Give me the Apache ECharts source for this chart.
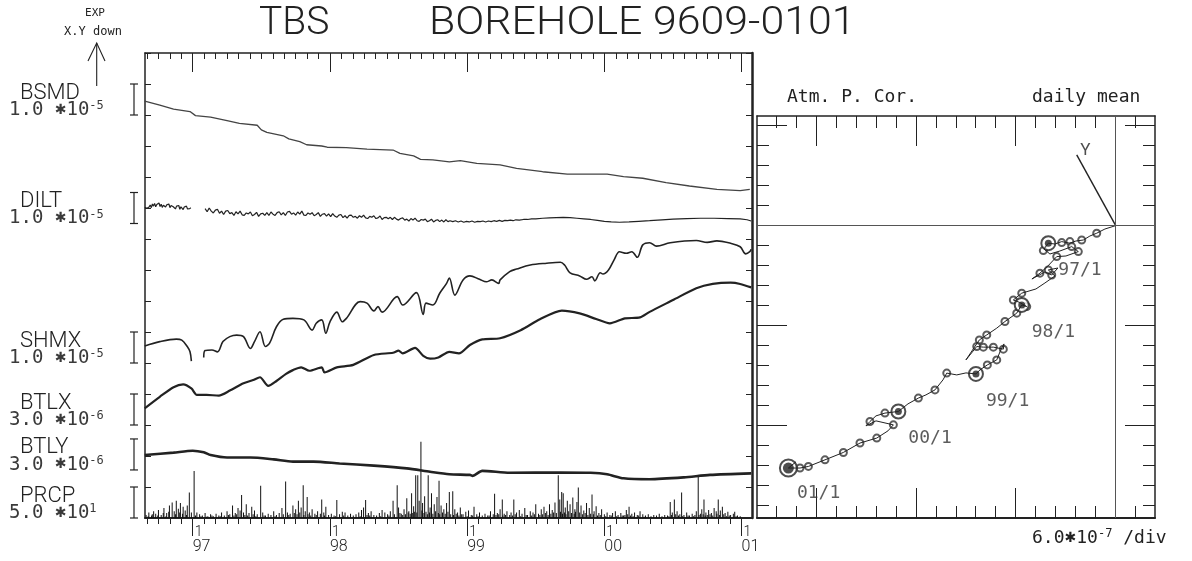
<!DOCTYPE html>
<html>
<head>
<meta charset="utf-8">
<script src="https://cdn.jsdelivr.net/npm/echarts@6/dist/echarts.min.js"></script>
<style>
  html, body { margin: 0; padding: 0; background: #fff; }
  #chart { width: 1192px; height: 561px; }
</style>
</head>
<body>
<div id="chart"></div>
<script>
// ---------- time-series panel (x: decimal year, y: stacked plot divisions) ----------
const yearTicks = [1997, 1998, 1999, 2000, 2001];
const yearLabels = ['97', '98', '99', '00', '01'];

const traceNames = ['BSMD', 'DILT', 'SHMX', 'BTLX', 'BTLY', 'PRCP'];
const traceScales = [['1.0', '-5'], ['1.0', '-5'], ['1.0', '-5'], ['3.0', '-6'], ['3.0', '-6'], ['5.0', '1']];
const scaleBars = [[13, 14], [9.5, 10.5], [5, 6], [3, 4], [1.55, 2.55], [0, 1]];
const PRCP_MM_PER_DIV = 50;

const bsmd = [
  [1996.65,13.45],[1996.76,13.32],[1996.86,13.19],[1996.98,13.11],[1997.02,12.98],[1997.13,12.93],
  [1997.25,12.82],[1997.34,12.73],[1997.47,12.67],[1997.50,12.52],[1997.54,12.44],[1997.66,12.33],
  [1997.70,12.23],[1997.78,12.14],[1997.83,12.04],[1997.94,12.00],[1997.98,11.96],[1998.12,11.95],
  [1998.27,11.90],[1998.46,11.87],[1998.51,11.76],[1998.61,11.68],[1998.66,11.57],[1998.75,11.55],
  [1998.87,11.49],[1998.95,11.53],[1999.07,11.44],[1999.24,11.39],[1999.36,11.28],[1999.55,11.17],
  [1999.73,11.09],[1999.89,11.09],[2000.02,11.09],[2000.14,11.01],[2000.28,10.96],[2000.45,10.82],
  [2000.62,10.71],[2000.82,10.60],[2000.99,10.56],[2001.06,10.60]
];

const dilt = [
  [1996.650,10.02],[1996.658,10.07],[1996.666,9.99],[1996.674,10.05],[1996.682,10.03],[1996.690,10.10],
  [1996.698,10.01],[1996.706,10.13],[1996.714,10.06],[1996.722,10.15],[1996.730,10.04],[1996.738,10.11],
  [1996.746,10.08],[1996.754,10.16],[1996.762,10.05],[1996.770,10.12],[1996.778,10.02],[1996.786,10.09],
  [1996.794,10.14],[1996.802,10.03],[1996.810,10.10],[1996.818,10.07],[1996.826,10.13],[1996.834,10.01],
  [1996.842,10.08],[1996.850,10.11],[1996.858,10.04],[1996.866,10.09],[1996.874,9.97],[1996.882,10.06],
  [1996.890,10.02],[1996.898,10.08],[1996.906,9.96],[1996.914,10.04],[1996.922,10.07],[1996.930,9.95],
  [1996.938,10.03],[1996.946,9.99],[1996.954,10.06],[1996.962,9.97],[1996.970,10.02],[1996.978,9.98],
  [1996.986,10.01],[1997.04,null],
  [1997.090,9.98],[1997.105,9.88],[1997.120,10.00],[1997.135,9.90],[1997.150,9.84],[1997.165,9.93],
  [1997.180,9.96],[1997.195,9.83],[1997.210,9.90],[1997.225,9.79],[1997.240,9.90],[1997.255,9.92],
  [1997.270,9.82],[1997.285,9.85],[1997.300,9.76],[1997.315,9.88],[1997.330,9.81],[1997.345,9.90],
  [1997.360,9.78],[1997.375,9.76],[1997.390,9.84],[1997.405,9.81],[1997.420,9.87],[1997.435,9.75],
  [1997.450,9.79],[1997.465,9.86],[1997.480,9.73],[1997.495,9.81],[1997.510,9.83],[1997.525,9.76],
  [1997.540,9.85],[1997.555,9.76],[1997.570,9.87],[1997.585,9.80],[1997.600,9.76],[1997.615,9.85],
  [1997.630,9.88],[1997.645,9.78],[1997.660,9.85],[1997.675,9.76],[1997.690,9.87],[1997.705,9.89],
  [1997.720,9.80],[1997.735,9.84],[1997.750,9.77],[1997.765,9.87],[1997.780,9.80],[1997.795,9.90],
  [1997.810,9.77],[1997.825,9.76],[1997.840,9.84],[1997.855,9.80],[1997.870,9.85],[1997.885,9.75],
  [1997.900,9.79],[1997.915,9.85],[1997.930,9.73],[1997.945,9.80],[1997.960,9.82],[1997.975,9.74],
  [1997.990,9.81],[1998.005,9.72],[1998.020,9.82],[1998.035,9.74],[1998.050,9.70],[1998.065,9.77],
  [1998.080,9.79],[1998.095,9.69],[1998.110,9.75],[1998.125,9.67],[1998.140,9.76],[1998.155,9.77],
  [1998.170,9.70],[1998.185,9.73],[1998.200,9.67],[1998.215,9.75],[1998.230,9.70],[1998.245,9.77],
  [1998.260,9.68],[1998.275,9.66],[1998.290,9.73],[1998.305,9.70],[1998.320,9.75],[1998.335,9.66],
  [1998.350,9.68],[1998.365,9.74],[1998.380,9.63],[1998.395,9.69],[1998.410,9.70],[1998.425,9.65],
  [1998.440,9.70],[1998.455,9.63],[1998.470,9.70],[1998.485,9.64],[1998.500,9.61],[1998.515,9.66],
  [1998.530,9.68],[1998.545,9.61],[1998.560,9.64],[1998.575,9.58],[1998.590,9.66],[1998.605,9.61],
  [1998.620,9.67],[1998.635,9.59],[1998.650,9.57],[1998.665,9.63],[1998.680,9.61],[1998.695,9.64],
  [1998.710,9.56],[1998.725,9.59],[1998.740,9.64],[1998.755,9.55],[1998.770,9.60],[1998.785,9.62],
  [1998.800,9.56],[1998.815,9.61],[1998.830,9.55],[1998.845,9.62],[1998.860,9.56],[1998.875,9.59],
  [1998.895,9.56],[1998.915,9.59],[1998.935,9.55],[1998.955,9.58],[1998.975,9.54],[1998.995,9.57],
  [1999.015,9.55],[1999.035,9.58],[1999.055,9.54],[1999.075,9.57],[1999.095,9.56],[1999.115,9.58],
  [1999.135,9.55],[1999.155,9.58],[1999.175,9.56],[1999.195,9.59],[1999.215,9.57],[1999.235,9.60],
  [1999.255,9.57],[1999.275,9.60],[1999.295,9.59],[1999.315,9.61],[1999.335,9.59],[1999.355,9.62],
  [1999.38,9.61],[1999.41,9.63],[1999.44,9.63],[1999.47,9.65],
  [1999.50,9.65],[1999.55,9.67],[1999.60,9.68],[1999.65,9.69],[1999.70,9.70],[1999.75,9.69],
  [1999.80,9.67],[1999.85,9.65],[1999.90,9.63],[1999.95,9.60],[2000.00,9.57],[2000.05,9.55],
  [2000.11,9.54],[2000.18,9.55],[2000.25,9.57],[2000.33,9.59],[2000.42,9.62],[2000.50,9.64],
  [2000.60,9.66],[2000.70,9.67],[2000.80,9.67],[2000.90,9.66],[2000.99,9.65],[2001.04,9.62],[2001.07,9.58]
];

const shmx = [
  [1996.65,5.55],[1996.76,5.69],[1996.88,5.77],[1996.92,5.74],[1996.96,5.53],[1996.98,5.36],[1996.99,5.06],
  [1997.04,null],
  [1997.08,5.18],[1997.09,5.40],[1997.14,5.42],[1997.18,5.36],[1997.22,5.69],[1997.27,5.85],[1997.32,5.90],
  [1997.37,5.85],[1997.42,5.47],[1997.45,5.69],[1997.49,6.01],[1997.53,5.53],[1997.56,5.64],[1997.61,6.17],
  [1997.66,6.41],[1997.73,6.44],[1997.81,6.39],[1997.87,6.06],[1997.90,6.28],[1997.94,6.39],[1997.97,5.96],
  [1998.00,6.33],[1998.05,6.64],[1998.09,6.33],[1998.12,6.44],[1998.22,6.98],[1998.27,6.93],[1998.32,6.68],
  [1998.35,6.82],[1998.38,6.64],[1998.49,7.14],[1998.53,6.87],[1998.63,7.27],[1998.68,6.57],[1998.70,6.93],
  [1998.75,6.87],[1998.80,7.25],[1998.85,7.57],[1998.87,7.74],[1998.91,7.19],[1998.97,7.68],[1999.02,7.81],
  [1999.09,7.70],[1999.14,7.62],[1999.18,7.68],[1999.23,7.57],[1999.24,7.68],[1999.31,7.95],[1999.36,8.03],
  [1999.46,8.16],[1999.58,8.22],[1999.68,8.25],[1999.71,8.16],[1999.75,7.91],[1999.82,7.81],[1999.87,7.70],
  [1999.91,7.78],[1999.93,7.65],[1999.97,7.91],[1999.99,7.87],[2000.03,8.00],[2000.07,8.32],[2000.11,8.59],
  [2000.16,8.54],[2000.20,8.59],[2000.24,8.41],[2000.28,8.81],[2000.33,8.88],[2000.38,8.77],[2000.48,8.88],
  [2000.67,8.95],[2000.75,8.89],[2000.82,8.94],[2000.92,8.86],[2000.99,8.75],[2001.03,8.52],[2001.06,8.59],
  [2001.07,8.67]
];

const btlx = [
  [1996.65,3.54],[1996.76,3.91],[1996.86,4.22],[1996.93,4.31],[1996.99,4.18],[1997.03,3.97],[1997.10,3.97],
  [1997.19,3.95],[1997.27,4.11],[1997.37,4.35],[1997.44,4.45],[1997.49,4.54],[1997.55,4.26],[1997.61,4.42],
  [1997.68,4.65],[1997.73,4.77],[1997.79,4.86],[1997.85,4.75],[1997.94,4.86],[1997.96,4.70],[1998.05,4.86],
  [1998.17,4.94],[1998.32,5.26],[1998.46,5.33],[1998.50,5.40],[1998.53,5.31],[1998.62,5.49],[1998.68,5.23],
  [1998.73,5.14],[1998.79,5.18],[1998.87,5.36],[1998.94,5.31],[1999.02,5.58],[1999.11,5.76],[1999.24,5.80],
  [1999.39,6.06],[1999.53,6.41],[1999.69,6.69],[1999.82,6.60],[1999.94,6.42],[2000.04,6.28],[2000.15,6.44],
  [2000.26,6.47],[2000.33,6.65],[2000.50,7.03],[2000.67,7.41],[2000.79,7.55],[2000.92,7.59],[2000.99,7.55],
  [2001.07,7.44]
];

const btly = [
  [1996.65,2.03],[1996.86,2.11],[1997.00,2.17],[1997.08,2.12],[1997.13,2.03],[1997.25,1.95],[1997.42,1.95],
  [1997.59,1.89],[1997.73,1.82],[1997.88,1.82],[1998.07,1.76],[1998.32,1.69],[1998.56,1.60],[1998.73,1.49],
  [1998.87,1.41],[1999.02,1.39],[1999.04,1.36],[1999.11,1.52],[1999.31,1.46],[1999.68,1.47],[1999.90,1.46],
  [2000.02,1.41],[2000.14,1.28],[2000.33,1.25],[2000.58,1.31],[2000.77,1.39],[2001.07,1.44]
];

// daily precipitation, mm
const prcp = [
  [1996.66,5],[1996.68,9],[1996.70,4],[1996.715,11],[1996.73,7],[1996.75,13],[1996.77,5],[1996.79,16],
  [1996.81,8],[1996.83,20],[1996.85,25],[1996.865,11],[1996.88,28],[1996.895,15],[1996.91,24],[1996.93,18],
  [1996.945,12],[1996.96,20],[1996.975,41],[1996.99,9],[1997.01,76],[1997.03,9],[1997.05,6],[1997.07,4],
  [1997.09,8],[1997.11,3],[1997.13,6],[1997.15,3],[1997.17,7],[1997.19,4],[1997.21,9],[1997.23,4],
  [1997.25,11],[1997.27,6],[1997.29,20],[1997.31,8],[1997.33,16],[1997.345,12],[1997.356,37],[1997.37,9],
  [1997.39,22],[1997.41,8],[1997.43,18],[1997.45,12],[1997.47,6],[1997.495,52],[1997.51,9],[1997.53,4],
  [1997.55,7],[1997.57,5],[1997.59,11],[1997.61,5],[1997.63,8],[1997.65,16],[1997.677,59],[1997.69,9],
  [1997.71,7],[1997.73,20],[1997.75,14],[1997.77,28],[1997.79,17],[1997.805,53],[1997.82,11],[1997.834,34],
  [1997.85,9],[1997.87,14],[1997.89,7],[1997.91,11],[1997.94,30],[1997.955,9],[1997.97,18],[1997.99,5],
  [1998.01,7],[1998.03,4],[1998.05,29],[1998.07,6],[1998.09,10],[1998.11,9],[1998.13,4],[1998.15,7],
  [1998.17,4],[1998.19,6],[1998.21,9],[1998.23,13],[1998.245,17],[1998.26,29],[1998.28,8],[1998.30,11],
  [1998.32,5],[1998.34,4],[1998.36,8],[1998.38,13],[1998.40,9],[1998.42,6],[1998.44,11],[1998.46,28],
  [1998.49,53],[1998.50,17],[1998.52,7],[1998.54,14],[1998.56,32],[1998.575,11],[1998.595,40],[1998.61,19],
  [1998.625,69],[1998.64,69],[1998.65,28],[1998.663,123],[1998.675,24],[1998.69,35],[1998.716,69],[1998.73,17],
  [1998.74,40],[1998.76,22],[1998.78,34],[1998.795,60],[1998.81,20],[1998.83,14],[1998.85,24],[1998.87,42],
  [1998.895,43],[1998.91,14],[1998.93,9],[1998.95,17],[1998.97,6],[1998.99,10],[1999.01,12],[1999.03,5],
  [1999.05,18],[1999.07,6],[1999.09,9],[1999.11,4],[1999.13,7],[1999.15,4],[1999.17,11],[1999.19,6],
  [1999.20,39],[1999.22,8],[1999.24,14],[1999.256,30],[1999.27,7],[1999.29,11],[1999.31,5],[1999.32,9],
  [1999.34,30],[1999.36,9],[1999.38,13],[1999.40,7],[1999.42,16],[1999.44,5],[1999.46,11],[1999.48,9],
  [1999.50,22],[1999.52,7],[1999.54,14],[1999.56,18],[1999.58,11],[1999.60,22],[1999.62,13],[1999.64,25],
  [1999.664,69],[1999.675,30],[1999.689,42],[1999.70,40],[1999.715,17],[1999.73,28],[1999.75,22],[1999.77,33],
  [1999.785,14],[1999.80,26],[1999.81,49],[1999.83,20],[1999.85,12],[1999.87,24],[1999.89,16],[1999.91,38],
  [1999.925,11],[1999.94,19],[1999.96,8],[1999.98,14],[2000.00,6],[2000.02,9],[2000.04,5],[2000.06,8],
  [2000.08,11],[2000.10,5],[2000.12,8],[2000.14,4],[2000.16,13],[2000.18,18],[2000.20,7],[2000.22,9],
  [2000.24,5],[2000.26,11],[2000.28,6],[2000.30,4],[2000.32,6],[2000.34,3],[2000.36,5],[2000.38,4],
  [2000.40,7],[2000.42,3],[2000.44,5],[2000.46,4],[2000.48,26],[2000.495,9],[2000.51,30],[2000.53,11],
  [2000.55,6],[2000.563,41],[2000.58,5],[2000.60,9],[2000.62,4],[2000.64,7],[2000.66,5],[2000.67,11],
  [2000.684,66],[2000.70,7],[2000.71,14],[2000.726,30],[2000.74,9],[2000.76,13],[2000.78,8],[2000.80,16],
  [2000.815,11],[2000.83,30],[2000.845,12],[2000.86,18],[2000.88,8],[2000.90,10],[2000.92,5],[2000.94,7],
  [2000.95,10],[2000.97,4],[2000.99,3],
  [1996.675,3],[1996.705,6],[1996.745,4],[1996.785,8],[1996.805,3],[1996.825,10],[1996.875,6],[1996.905,9],
  [1996.925,7],[1996.955,5],[1997.02,4],[1997.06,3],[1997.10,2],[1997.14,4],[1997.20,3],[1997.26,5],
  [1997.30,4],[1997.32,6],[1997.38,5],[1997.40,4],[1997.44,6],[1997.46,3],[1997.52,4],[1997.60,3],
  [1997.66,6],[1997.70,5],[1997.74,8],[1997.76,6],[1997.78,9],[1997.81,5],[1997.84,6],[1997.86,4],
  [1997.90,5],[1997.93,7],[1997.96,4],[1998.04,3],[1998.10,4],[1998.22,3],[1998.27,5],[1998.29,4],
  [1998.37,3],[1998.43,4],[1998.47,6],[1998.51,8],[1998.53,5],[1998.55,6],[1998.57,9],[1998.585,7],
  [1998.60,8],[1998.615,10],[1998.633,9],[1998.67,12],[1998.685,8],[1998.70,10],[1998.71,6],[1998.725,9],
  [1998.75,7],[1998.77,11],[1998.79,8],[1998.80,6],[1998.82,9],[1998.84,7],[1998.86,10],[1998.88,6],
  [1998.90,5],[1998.92,7],[1998.94,4],[1998.96,6],[1999.00,3],[1999.04,4],[1999.08,3],[1999.16,4],
  [1999.21,5],[1999.23,6],[1999.26,4],[1999.28,5],[1999.33,4],[1999.35,6],[1999.39,3],[1999.43,5],
  [1999.47,4],[1999.49,6],[1999.53,5],[1999.55,6],[1999.57,8],[1999.59,5],[1999.61,7],[1999.63,9],
  [1999.65,8],[1999.68,10],[1999.695,7],[1999.71,9],[1999.72,6],[1999.74,11],[1999.76,8],[1999.78,7],
  [1999.79,10],[1999.82,9],[1999.84,6],[1999.86,8],[1999.88,5],[1999.90,7],[1999.92,6],[1999.95,4],
  [1999.97,5],[2000.01,3],[2000.05,4],[2000.09,3],[2000.13,4],[2000.15,5],[2000.17,6],[2000.19,4],
  [2000.21,3],[2000.25,4],[2000.29,2],[2000.47,3],[2000.49,5],[2000.52,6],[2000.54,4],[2000.57,3],
  [2000.61,4],[2000.65,3],[2000.69,5],[2000.72,6],[2000.735,4],[2000.75,5],[2000.77,6],[2000.79,4],
  [2000.82,7],[2000.84,5],[2000.87,6],[2000.89,3],[2000.91,4],[2000.96,3]
];

// ---------- strain vector panel (units: divisions of 6.0e-7) ----------
const vecPath = [
  [0,0],[-0.54,-0.17],[-0.95,-0.38],[-1.29,-0.52],[-1.62,-0.72],[-1.99,-0.77],[-2.29,-0.88],[-2.70,-0.80],
  [-3.04,-0.92],[-3.37,-0.88],[-3.59,-1.17],[-3.29,-1.42],[-2.79,-1.27],[-2.20,-1.05],[-1.87,-1.30],
  [-2.49,-1.52],[-2.95,-1.55],[-3.39,-2.02],[-3.79,-2.38],[-4.19,-2.67],[-3.54,-2.32],[-3.20,-2.47],
  [-2.89,-2.12],[-3.37,-2.22],[-3.04,-2.52],[-3.54,-2.87],[-3.99,-3.17],[-4.70,-3.38],[-5.12,-3.72],
  [-4.79,-3.85],[-4.45,-4.05],[-4.70,-3.97],[-4.95,-4.38],[-5.54,-4.80],[-5.95,-5.13],[-6.45,-5.47],
  [-6.82,-5.72],[-7.09,-6.12],[-7.49,-6.72],[-6.95,-6.05],[-6.62,-6.08],[-6.12,-6.08],[-5.62,-6.18],
  [-5.59,-5.92],[-5.79,-6.32],[-5.95,-6.72],[-6.42,-6.97],[-6.79,-7.22],[-6.99,-7.42],[-7.49,-7.37],
  [-7.95,-7.47],[-8.45,-7.38],[-8.64,-7.72],[-9.04,-8.22],[-9.49,-8.47],[-9.87,-8.63],[-10.39,-8.92],
  [-10.87,-9.30],[-11.54,-9.38],[-11.99,-9.52],[-12.29,-9.80],[-12.49,-10.02],[-11.99,-9.77],[-11.12,-9.97],
  [-11.39,-10.27],[-11.95,-10.63],[-12.79,-10.88],[-13.62,-11.35],[-14.54,-11.72],[-15.37,-12.05],
  [-15.79,-12.13],[-16.37,-12.13],[-15.99,-11.82]
];
const vecMonthly = [
  [-0.95,-0.38],[-1.70,-0.72],[-2.29,-0.80],[-2.70,-0.85],[-3.62,-1.25],[-2.95,-1.55],[-2.20,-1.05],
  [-1.87,-1.30],[-3.79,-2.38],[-3.20,-2.47],[-3.37,-2.22],[-4.70,-3.38],[-5.12,-3.72],[-4.45,-4.05],
  [-4.95,-4.38],[-5.54,-4.80],[-6.45,-5.47],[-6.82,-5.72],[-6.95,-6.05],[-6.62,-6.08],[-6.12,-6.08],
  [-5.62,-6.18],[-5.95,-6.72],[-6.42,-6.97],[-8.45,-7.38],[-9.04,-8.22],[-9.87,-8.63],[-11.54,-9.38],
  [-12.29,-9.80],[-11.12,-9.97],[-11.95,-10.63],[-12.79,-10.88],[-13.62,-11.35],[-14.54,-11.72],
  [-15.37,-12.05],[-15.79,-12.13]
];
const yearMarks = [
  { name: '97/1', value: [-3.37, -0.88] },
  { name: '98/1', value: [-4.70, -3.97] },
  { name: '99/1', value: [-6.99, -7.42] },
  { name: '00/1', value: [-10.87, -9.30] },
  { name: '01/1', value: [-16.37, -12.13] }
];
const yAxisDir = [[0, 0], [-1.95, 3.54]];
const vecTicksX = [-17,-16,-15,-14,-13,-12,-11,-10,-9,-8,-7,-6,-5,-4,-3,-2,-1,0,1];
const vecMajorX = [-15, -10, -5];
const vecTicksY = [-14,-13,-12,-11,-10,-9,-8,-7,-6,-5,-4,-3,-2,-1,0,1,2,3,4,5];
const vecMajorY = [-10, -5, 5];

// ---------- layout & styling ----------
const INK = '#222';
const SANS = 'Roboto, "DejaVu Sans", "Liberation Sans", sans-serif';
const MONO = '"DejaVu Sans Mono", "Liberation Mono", monospace';
const XMIN = 1996.652, XMAX = 2001.076;
const VX_MIN = -17.94, VX_MAX = 1.965, VY_MIN = -14.63, VY_MAX = 5.485;

const monthTicks = [];
for (let y = 1996; y <= 2001; y++) {
  for (let m = 0; m < 12; m++) {
    const v = +(y + m / 12).toFixed(4);
    if (v >= XMIN && v <= XMAX) monthTicks.push(v);
  }
}

function axis(opts) {
  const base = {
    type: 'value',
    axisLine: { show: false, onZero: false, lineStyle: { color: INK, width: 1.5 } },
    axisLabel: { show: false },
    splitLine: { show: false }
  };
  return Object.assign(base, opts);
}
function ticks(values, len, inside) {
  return { show: true, inside: inside, length: len, customValues: values, lineStyle: { color: INK, width: 1 } };
}
function frameLine(w) {
  return { show: true, onZero: false, lineStyle: { color: INK, width: w } };
}

const chart = echarts.init(document.getElementById('chart'), null, { renderer: 'canvas' });

const option = {
  animation: false,
  backgroundColor: '#fff',
  grid: [
    { left: 145, top: 53, width: 607, height: 465 },
    { left: 757, top: 116, width: 398, height: 402 }
  ],
  xAxis: [
    axis({ gridIndex: 0, position: 'bottom', min: XMIN, max: XMAX, axisLine: frameLine(2), axisTick: ticks(monthTicks, 6, false) }),
    axis({
      gridIndex: 0, position: 'bottom', min: XMIN, max: XMAX, axisTick: ticks(yearTicks, 18, false),
      axisLabel: {
        show: true, customValues: yearTicks, margin: 8, align: 'left', color: INK,
        formatter: v => '{a|1}\n{b|' + yearLabels[yearTicks.indexOf(Math.round(v))] + '}',
        rich: {
          a: { fontSize: 14, fontFamily: SANS, fontWeight: 300, color: INK, lineHeight: 13, padding: [0, 0, 0, 2] },
          b: { fontSize: 16, fontFamily: SANS, fontWeight: 300, color: INK, lineHeight: 16 }
        }
      }
    }),
    axis({ gridIndex: 0, position: 'top', min: XMIN, max: XMAX, axisLine: frameLine(1.5), axisTick: ticks(monthTicks, 6, true) }),
    axis({ gridIndex: 0, position: 'top', min: XMIN, max: XMAX, axisTick: ticks(yearTicks, 19, true) }),
    axis({ gridIndex: 1, position: 'bottom', min: VX_MIN, max: VX_MAX, axisLine: frameLine(2), axisTick: ticks(vecTicksX, 12, true) }),
    axis({ gridIndex: 1, position: 'bottom', min: VX_MIN, max: VX_MAX, axisTick: ticks(vecMajorX, 30, true) }),
    axis({ gridIndex: 1, position: 'top', min: VX_MIN, max: VX_MAX, axisLine: frameLine(1.5), axisTick: ticks(vecTicksX, 12, true) }),
    axis({ gridIndex: 1, position: 'top', min: VX_MIN, max: VX_MAX, axisTick: ticks(vecMajorX, 30, true) })
  ],
  yAxis: [
    axis({ gridIndex: 0, position: 'left', min: 0, max: 15, interval: 1, axisLine: frameLine(1.5), axisTick: { show: true, inside: true, length: 6, lineStyle: { color: INK } } }),
    axis({ gridIndex: 0, position: 'right', min: 0, max: 15, interval: 1, axisLine: frameLine(2.5), axisTick: { show: true, inside: true, length: 6, lineStyle: { color: INK } } }),
    axis({ gridIndex: 1, position: 'left', min: VY_MIN, max: VY_MAX, axisLine: frameLine(1.5), axisTick: ticks(vecTicksY, 12, true) }),
    axis({ gridIndex: 1, position: 'left', min: VY_MIN, max: VY_MAX, axisTick: ticks(vecMajorY, 30, true) }),
    axis({ gridIndex: 1, position: 'right', min: VY_MIN, max: VY_MAX, axisLine: frameLine(1.5), axisTick: ticks(vecTicksY, 12, true) }),
    axis({ gridIndex: 1, position: 'right', min: VY_MIN, max: VY_MAX, axisTick: ticks(vecMajorY, 30, true) })
  ],
  series: [
    { name: 'BSMD', type: 'line', xAxisIndex: 0, yAxisIndex: 0, data: bsmd, showSymbol: false,
      lineStyle: { color: '#444', width: 1.3 } },
    { name: 'DILT', type: 'line', xAxisIndex: 0, yAxisIndex: 0, data: dilt, showSymbol: false, connectNulls: false,
      lineStyle: { color: INK, width: 1.2 } },
    { name: 'SHMX', type: 'line', xAxisIndex: 0, yAxisIndex: 0, data: shmx, showSymbol: false, connectNulls: false,
      smooth: 0.35, lineStyle: { color: INK, width: 1.6 } },
    { name: 'BTLX', type: 'line', xAxisIndex: 0, yAxisIndex: 0, data: btlx, showSymbol: false,
      smooth: 0.25, lineStyle: { color: INK, width: 2.2 } },
    { name: 'BTLY', type: 'line', xAxisIndex: 0, yAxisIndex: 0, data: btly, showSymbol: false,
      smooth: 0.25, lineStyle: { color: INK, width: 2.6 } },
    { name: 'PRCP', type: 'bar', xAxisIndex: 0, yAxisIndex: 0, barWidth: 1,
      data: prcp.map(d => [d[0], d[1] / PRCP_MM_PER_DIV]), itemStyle: { color: '#111' } },
    {
      name: 'scale', type: 'custom', xAxisIndex: 0, yAxisIndex: 0, clip: false, silent: true,
      data: scaleBars.map((b, i) => [XMIN, b[0], b[1], i]),
      encode: { x: 0, y: 1 },
      renderItem: function (params, api) {
        const i = api.value(3);
        const lo = api.coord([XMIN, api.value(1)]);
        const hi = api.coord([XMIN, api.value(2)]);
        const x = lo[0] - 11;
        const st = { stroke: INK, lineWidth: 1.2 };
        const sc = traceScales[i];
        return {
          type: 'group',
          children: [
            { type: 'line', shape: { x1: x, y1: hi[1], x2: x, y2: lo[1] }, style: st },
            { type: 'line', shape: { x1: x - 4, y1: hi[1], x2: x + 4, y2: hi[1] }, style: st },
            { type: 'line', shape: { x1: x - 4, y1: lo[1], x2: x + 4, y2: lo[1] }, style: st },
            { type: 'text', style: { text: traceNames[i], x: 20, y: hi[1] + 9, verticalAlign: 'middle',
                fill: INK, fontSize: 22, fontFamily: SANS, fontWeight: 300 } },
            { type: 'text', style: {
                text: '{n|' + sc[0] + ' }{st|\u2731}{n|10}{sup|' + sc[1] + '}',
                x: 9, y: hi[1] + 26, verticalAlign: 'middle',
                rich: {
                  n: { fontSize: 19, fontFamily: MONO, fill: '#3a3a3a', lineHeight: 20 },
                  st: { fontSize: 14, fontFamily: SANS, fill: '#3a3a3a', lineHeight: 20 },
                  sup: { fontSize: 12, fontFamily: MONO, fill: '#3a3a3a', verticalAlign: 'top', lineHeight: 12 }
                } } }
          ]
        };
      }
    },
    {
      name: 'path', type: 'line', xAxisIndex: 4, yAxisIndex: 2, data: vecPath, showSymbol: false,
      lineStyle: { color: INK, width: 1 },
      markLine: {
        silent: true, symbol: ['none', 'none'], label: { show: false },
        lineStyle: { color: '#555', width: 1, type: 'solid' },
        data: [{ xAxis: 0 }, { yAxis: 0 }]
      }
    },
    { name: 'monthly', type: 'scatter', xAxisIndex: 4, yAxisIndex: 2, data: vecMonthly,
      symbol: 'emptyCircle', symbolSize: 7, itemStyle: { color: '#333', borderWidth: 1 } },
    { name: 'year ring', type: 'scatter', xAxisIndex: 4, yAxisIndex: 2, data: yearMarks,
      symbol: 'emptyCircle', symbolSize: d => (d[0] < -15 ? 17 : 14), itemStyle: { color: INK, borderWidth: 1.2 },
      label: { show: true, formatter: '{b}', position: [18, 35], align: 'left', verticalAlign: 'middle',
        fontSize: 18, fontFamily: MONO, color: '#333' } },
    { name: 'year dot', type: 'scatter', xAxisIndex: 4, yAxisIndex: 2, data: yearMarks,
      symbol: 'circle', symbolSize: d => (d[0] < -15 ? 11 : 7), itemStyle: { color: INK } },
    { name: 'Y', type: 'line', xAxisIndex: 4, yAxisIndex: 2, data: yAxisDir, showSymbol: false,
      lineStyle: { color: INK, width: 1.4 } },
    { name: 'Y label', type: 'scatter', xAxisIndex: 4, yAxisIndex: 2, data: [yAxisDir[1]],
      symbolSize: 1, itemStyle: { color: 'rgba(0,0,0,0)' },
      label: { show: true, formatter: 'Y', position: 'right', distance: 3, offset: [0, -4],
        fontSize: 17, fontFamily: SANS, color: INK } }
  ],
  graphic: [
    { type: 'text', x: 259, y: 24, style: { text: 'TBS', fontSize: 39, fontFamily: SANS, fontWeight: 300, fill: INK, verticalAlign: 'middle' } },
    { type: 'text', x: 429, y: 24, scaleX: 1.1, style: { text: 'BOREHOLE 9609-0101', fontSize: 39, fontFamily: SANS, fontWeight: 300, fill: INK, verticalAlign: 'middle' } },
    { type: 'text', x: 95, y: 13, style: { text: 'EXP', fontSize: 11, fontFamily: MONO, fill: INK, align: 'center', verticalAlign: 'middle' } },
    { type: 'text', x: 93, y: 32, style: { text: 'X.Y down', fontSize: 12, fontFamily: MONO, fill: INK, align: 'center', verticalAlign: 'middle' } },
    { type: 'line', shape: { x1: 96.7, y1: 86, x2: 96.7, y2: 43 }, style: { stroke: INK, lineWidth: 1.1 } },
    { type: 'polyline', shape: { points: [[88, 61], [96.7, 43], [105, 61]] }, style: { stroke: INK, lineWidth: 1.1, fill: null } },
    { type: 'text', x: 787, y: 97, style: { text: 'Atm. P. Cor.', fontSize: 18, fontFamily: MONO, fill: INK, verticalAlign: 'middle' } },
    { type: 'text', x: 1032, y: 97, style: { text: 'daily mean', fontSize: 18, fontFamily: MONO, fill: INK, verticalAlign: 'middle' } },
    { type: 'text', x: 1032, y: 538, style: {
        text: '{n|6.0}{st|\u2731}{n|10}{sup|-7}{n| /div}', verticalAlign: 'middle',
        rich: {
          n: { fontSize: 18, fontFamily: MONO, fill: INK, lineHeight: 20 },
          st: { fontSize: 14, fontFamily: SANS, fill: INK, lineHeight: 20 },
          sup: { fontSize: 12, fontFamily: MONO, fill: INK, verticalAlign: 'top', lineHeight: 12 }
        } } }
  ]
};

chart.setOption(option);
</script>
</body>
</html>
